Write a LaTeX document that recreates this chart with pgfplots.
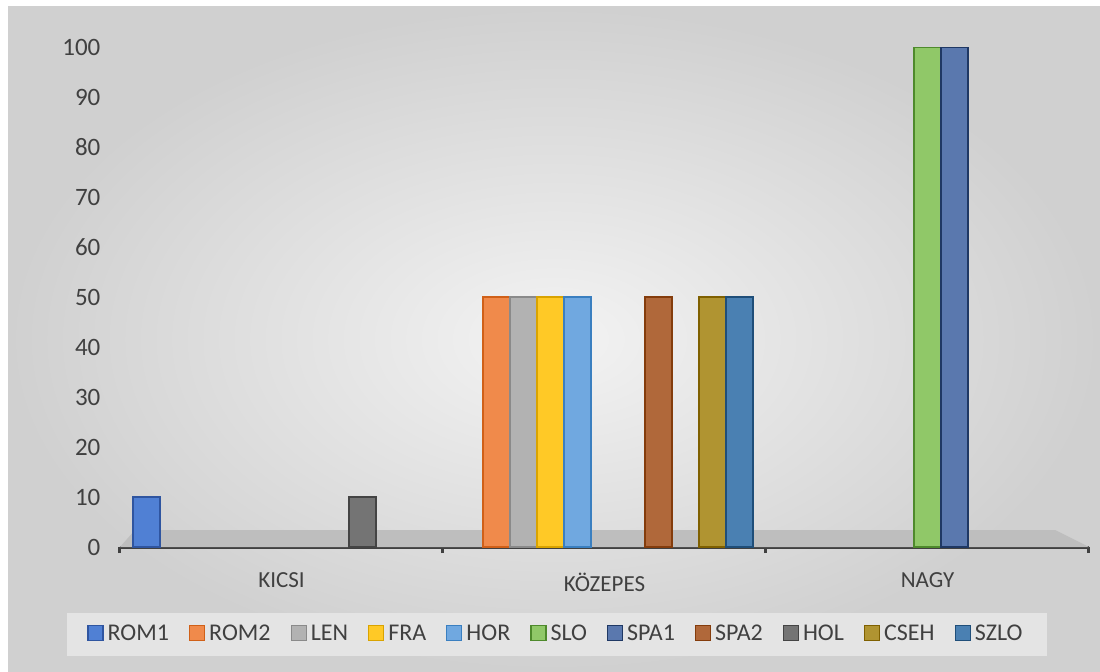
\documentclass[border=0pt]{standalone}
\usepackage{fontspec}
\setmainfont{Carlito}
\usepackage{pgfplots}
\pgfplotsset{compat=1.18}

\definecolor{txt}{HTML}{404040}
\definecolor{bgin}{HTML}{F3F3F3}
\definecolor{bgout}{HTML}{D0D0D0}
\definecolor{floor}{HTML}{BEBEBE}
\definecolor{legbg}{HTML}{E4E4E4}

\definecolor{cROMa}{HTML}{5080D4}\definecolor{dROMa}{HTML}{2F55A0}
\definecolor{cROMb}{HTML}{F08A4B}\definecolor{dROMb}{HTML}{D06018}
\definecolor{cLEN}{HTML}{B2B2B2}\definecolor{dLEN}{HTML}{8A8A8A}
\definecolor{cFRA}{HTML}{FFC926}\definecolor{dFRA}{HTML}{D9A300}
\definecolor{cHOR}{HTML}{70A8E0}\definecolor{dHOR}{HTML}{3A7FC0}
\definecolor{cSLO}{HTML}{90C868}\definecolor{dSLO}{HTML}{4E8A2C}
\definecolor{cSPAa}{HTML}{5A78AE}\definecolor{dSPAa}{HTML}{1F3864}
\definecolor{cSPAb}{HTML}{B0683A}\definecolor{dSPAb}{HTML}{843C0C}
\definecolor{cHOL}{HTML}{747474}\definecolor{dHOL}{HTML}{444444}
\definecolor{cCSEH}{HTML}{B09431}\definecolor{dCSEH}{HTML}{7F6000}
\definecolor{cSZLO}{HTML}{4A80B2}\definecolor{dSZLO}{HTML}{1F4E79}

\begin{document}
\begin{tikzpicture}
% page and chart background
\fill[white] (0,0) rectangle (550pt,335.5pt);
\shade[inner color=bgin, outer color=bgout] (4pt,0) rectangle (550pt,332pt);

\begin{axis}[
  at={(60pt,62pt)}, anchor=south west,
  scale only axis, width=484.5pt, height=250pt,
  xmin=-0.5, xmax=2.5, ymin=0, ymax=100,
  ybar=0pt, bar width=13.5pt,
  axis x line*=bottom, axis y line*=left,
  y axis line style={draw=none},
  x axis line style={txt, line width=1.5pt},
  tick align=outside,
  xtick={0,1,2}, xticklabels={KICSI,KÖZEPES,NAGY},
  major x tick style={draw=none},
  minor xtick={-0.5,0.5,1.5,2.5},
  minor x tick style={txt, line width=1.5pt},
  minor tick length=3pt,
  ytick={0,10,...,100}, ytick style={draw=none},
  /pgf/number format/assume math mode=true,
  ticklabel style={text=txt},
  yticklabel style={font=\fontsize{12.5}{14}\selectfont, xshift=-2pt},
  xticklabel style={font=\fontsize{11.5}{14}\selectfont, yshift=-5pt},
  every axis plot post/.append style={line width=0.6pt,
    legend image code/.code={\draw[#1,/tikz/.cd,yshift=-0.3em] (0pt,0pt) rectangle (7.5pt,7.5pt);}},
  legend columns=11,
  legend style={at={(0.451,-0.175)}, anchor=center, fill=legbg, draw=none,
    font=\fontsize{12}{14}\selectfont, text=txt,
    inner xsep=10pt, inner ysep=4pt,
    nodes={inner xsep=2pt},
    /tikz/every even column/.append style={column sep=8pt}},
  legend cell align=left,
]
% floor of the chart
\fill[floor] (axis cs:-0.5,0) -- (axis cs:-0.4536,3.4) -- (axis cs:2.395,3.4) -- (axis cs:2.5,0) -- cycle;

\addplot[fill=cROMa, draw=dROMa] coordinates {(0,10)};
\addplot[fill=cROMb, draw=dROMb] coordinates {(1,50)};
\addplot[fill=cLEN, draw=dLEN] coordinates {(1,50)};
\addplot[fill=cFRA, draw=dFRA] coordinates {(1,50)};
\addplot[fill=cHOR, draw=dHOR] coordinates {(1,50)};
\addplot[fill=cSLO, draw=dSLO] coordinates {(2,100)};
\addplot[fill=cSPAa, draw=dSPAa] coordinates {(2,100)};
\addplot[fill=cSPAb, draw=dSPAb] coordinates {(1,50)};
\addplot[fill=cHOL, draw=dHOL] coordinates {(0,10)};
\addplot[fill=cCSEH, draw=dCSEH] coordinates {(1,50)};
\addplot[fill=cSZLO, draw=dSZLO] coordinates {(1,50)};
\legend{ROM1,ROM2,LEN,FRA,HOR,SLO,SPA1,SPA2,HOL,CSEH,SZLO}
\end{axis}
\end{tikzpicture}
\end{document}
